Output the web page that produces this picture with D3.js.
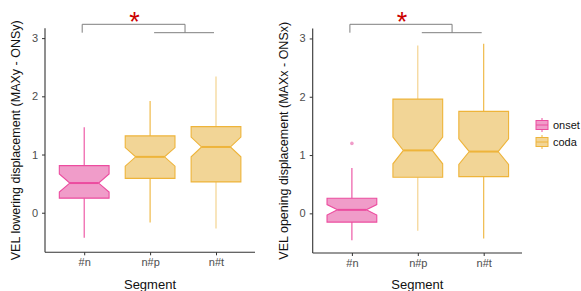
<!DOCTYPE html>
<html><head><meta charset="utf-8">
<script src="https://cdn.jsdelivr.net/npm/d3@7"></script>
<style>body{margin:0;background:#fff}svg{display:block}text{font-family:"Liberation Sans",Arial,sans-serif}</style>
</head><body><svg id="c" width="581" height="291"></svg>
<script>
const categories = ["#n", "n#p", "n#t"];
const groups = ["onset", "coda", "coda"];
const yTicks = [0, 1, 2, 3];
// [whiskerLow, q1, median, q3, whiskerHigh, notchHalf]
const lowering = [
  [-0.43, 0.25, 0.51, 0.81, 1.47, 0.155],
  [-0.17, 0.59, 0.96, 1.32, 1.92, 0.16],
  [-0.27, 0.53, 1.13, 1.48, 2.34, 0.17]
];
const opening = [
  [-0.46, -0.15, 0.06, 0.26, 0.78, 0.09],
  [-0.30, 0.62, 1.08, 1.96, 2.88, 0.23],
  [-0.43, 0.63, 1.06, 1.75, 2.91, 0.22]
];
const openingOutliers = [[0, 1.2]];
const legendLabels = ["onset", "coda"];
const colors = {onset: {fill: "#f09cc9", stroke: "#ec4c9f"}, coda: {fill: "#f2d596", stroke: "#eeb43a"}};

const svg = d3.select("#c");

function panel(cfg) {
  const y = d3.scaleLinear().domain([-0.68, 3.17]).range([cfg.y0, cfg.y0 - 3.85 * cfg.unit]);
  const x = d3.scalePoint().domain(categories).range([cfg.x0 + 39.2, cfg.x0 + 171]);
  const step = x.step();
  const g = svg.append("g");
  cfg.data.forEach((d, i) => {
    const c = colors[groups[i]];
    const cx = x(categories[i]);
    const w = step * 0.755;
    const l = cx - w / 2, r = cx + w / 2, ins = w * 0.21;
    const [lo, q1, med, q3, hi, n] = d;
    const wc = cfg.paleWhisker === i ? "#f3cf86" : c.stroke;
    g.append("line").attr("x1", cx).attr("x2", cx).attr("y1", y(q3)).attr("y2", y(hi)).attr("stroke", wc).attr("stroke-width", 1.1);
    g.append("line").attr("x1", cx).attr("x2", cx).attr("y1", y(q1)).attr("y2", y(lo)).attr("stroke", wc).attr("stroke-width", 1.1);
    const pts = [[l, y(q3)], [r, y(q3)], [r, y(med + n)], [r - ins, y(med)], [r, y(med - n)], [r, y(q1)],
                 [l, y(q1)], [l, y(med - n)], [l + ins, y(med)], [l, y(med + n)]];
    g.append("polygon").attr("points", pts.map(p => p.join(",")).join(" "))
      .attr("fill", c.fill).attr("stroke", c.stroke).attr("stroke-width", 1.1);
    g.append("line").attr("x1", l + ins).attr("x2", r - ins).attr("y1", y(med)).attr("y2", y(med))
      .attr("stroke", c.stroke).attr("stroke-width", 2);
  });
  (cfg.outliers || []).forEach(o => {
    g.append("circle").attr("cx", x(categories[o[0]])).attr("cy", y(o[1])).attr("r", 1.8).attr("fill", colors[groups[o[0]]].fill);
  });
  const yAx = g.append("g").attr("transform", `translate(${cfg.x0},0)`)
    .call(d3.axisLeft(y).tickValues(yTicks).tickFormat(d3.format("d")).tickSize(3).tickPadding(4));
  yAx.select(".domain").remove();
  const xAx = g.append("g").attr("transform", `translate(0,${y(-0.68)})`)
    .call(d3.axisBottom(x).tickSize(3).tickPadding(3));
  xAx.select(".domain").remove();
  [yAx, xAx].forEach(a => {
    a.selectAll("text").attr("fill", "#4d4d4d").style("font-size", "11px");
    a.selectAll(".tick line").attr("stroke", "#333");
  });
  g.append("line").attr("x1", cfg.x0).attr("x2", cfg.x0).attr("y1", y(3.17)).attr("y2", y(-0.68)).attr("stroke", "#333").attr("stroke-width", 1.1);
  g.append("line").attr("x1", cfg.x0).attr("x2", cfg.x1).attr("y1", y(-0.68)).attr("y2", y(-0.68)).attr("stroke", "#333").attr("stroke-width", 1.1);
  g.append("text").attr("transform", `translate(${cfg.ylabX},${(y(3.17) + y(-0.68)) / 2}) rotate(-90)`)
    .attr("text-anchor", "middle").attr("fill", "#111").style("font-size", "12.5px").text(cfg.ylabel);
  g.append("text").attr("x", (cfg.x0 + cfg.x1) / 2).attr("y", 289).attr("text-anchor", "middle")
    .attr("fill", "#111").style("font-size", "13px").text("Segment");
  const xa = x(categories[0]);
  const xb = x(categories[1]), xc = x(categories[2]);
  const xm = xb + (xc - xb) * cfg.mid;
  const yTop = 24.3, yLow = 32.7;
  const br = g.append("g").attr("stroke", "#7f7f7f").attr("fill", "none").attr("stroke-width", 1);
  br.append("path").attr("d", `M${xa - 2},${yLow}V${yTop}H${xm}V${yLow}`);
  br.append("path").attr("d", `M${xb + 4},${yLow}H${xc - 2}`);
  g.append("text").attr("x", (xa + xm) / 2).attr("y", 31).attr("text-anchor", "middle")
    .attr("fill", "#cc0000").style("font-size", "27px").text("*");
}

panel({x0: 45, x1: 255, y0: 252.3, unit: 58.2, data: lowering, ylabX: 20, mid: 0.53,
       ylabel: "VEL lowering displacement (MAXy - ONSy)", paleWhisker: 2});
panel({x0: 312.7, x1: 522, y0: 253, unit: 58.3, data: opening, outliers: openingOutliers, ylabX: 288, mid: 0.52,
       ylabel: "VEL opening displacement (MAXx - ONSx)", paleWhisker: 1});

const lg = svg.append("g");
legendLabels.forEach((lab, i) => {
  const c = colors[lab];
  const yy = 118 + i * 17;
  lg.append("line").attr("x1", 542).attr("x2", 542).attr("y1", yy).attr("y2", yy + 14).attr("stroke", c.stroke);
  lg.append("rect").attr("x", 536).attr("y", yy + 2.5).attr("width", 12).attr("height", 9)
    .attr("fill", c.fill).attr("stroke", c.stroke);
  lg.append("line").attr("x1", 536).attr("x2", 548).attr("y1", yy + 7).attr("y2", yy + 7).attr("stroke", c.stroke);
  lg.append("text").attr("x", 553).attr("y", yy + 11).attr("fill", "#111").style("font-size", "11px").text(lab);
});
</script></body></html>
